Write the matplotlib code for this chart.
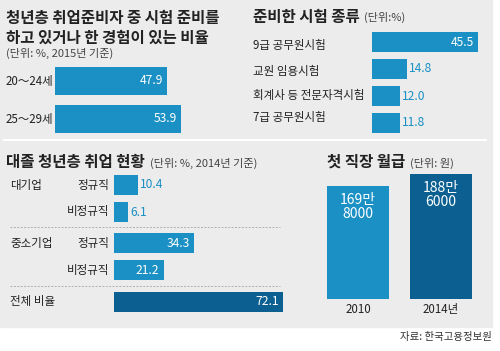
import matplotlib
matplotlib.use("Agg")
import matplotlib.pyplot as plt
from matplotlib.patches import Rectangle
from matplotlib.lines import Line2D

plt.rcParams['font.family'] = ['Noto Sans CJK KR', 'DejaVu Sans']

# data
age_labels = ['20～24세', '25～29세']
age_values = [47.9, 53.9]

exam_labels = ['9급 공무원시험', '교원 임용시험', '회계사 등 전문자격시험', '7급 공무원시험']
exam_values = [45.5, 14.8, 12.0, 11.8]

job_groups = ['대기업', '', '중소기업', '', '전체 비율']
job_types = ['정규직', '비정규직', '정규직', '비정규직', '']
job_values = [10.4, 6.1, 34.3, 21.2, 72.1]

salary_years = ['2010', '2014년']
salary_values = [169.8, 188.6]  # 만원
salary_texts = ['169만\n8000', '188만\n6000']

W, H = 500, 351
LIGHT = '#1a90c4'
DARK = '#0b6091'
TEXT = '#222222'
SCALE = 2.34  # px per % for horizontal bars

fig = plt.figure(figsize=(W / 100, H / 100), dpi=100)
fig.patches.append(Rectangle((0, 1 - 327 / H), 492 / W, 327 / H,
                             transform=fig.transFigure, color='#ececec', zorder=-2))
fig.add_artist(Line2D([4 / W, 486 / W], [1 - 140 / H] * 2, color='white', lw=1.5, zorder=-1))


def box(x0, y0, x1, y1):
    return [x0 / W, 1 - y1 / H, (x1 - x0) / W, (y1 - y0) / H]


def ftext(x, y, s, **kw):
    kw.setdefault('color', TEXT)
    kw.setdefault('va', 'center')
    fig.text(x / W, 1 - y / H, s, **kw)


def clean(ax):
    ax.set_facecolor('none')
    for sp in ax.spines.values():
        sp.set_visible(False)
    ax.set_xticks([])
    ax.set_yticks([])


def hbars(ax, pos, vals, colors, xmax):
    ax.barh(pos, vals, height=0.74, color=colors)
    ax.set_xlim(0, xmax)
    for p, v in zip(pos, vals):
        if v > 20:
            ax.annotate(f'{v:.1f}', (v, p), xytext=(-3, 0), textcoords='offset points',
                        ha='right', va='center', color='white', fontsize=8.7)
        else:
            ax.annotate(f'{v:.1f}', (v, p), xytext=(1.5, 0), textcoords='offset points',
                        ha='left', va='center', color=LIGHT, fontsize=8.7)


TITLE = dict(fontsize=11.2, fontweight='heavy')
UNIT = dict(fontsize=8, color='#444444')
LAB = dict(fontsize=8.3)

# --- top left ---
ftext(6, 18, '청년층 취업준비자 중 시험 준비를', **TITLE)
ftext(6, 38, '하고 있거나 한 경험이 있는 비율', **TITLE)
ftext(6, 53, '(단위: %, 2015년 기준)', **UNIT)

ax1 = fig.add_axes(box(55, 62, 55 + 60 * SCALE, 138))
clean(ax1)
hbars(ax1, [0, 1], age_values, LIGHT, 60)
ax1.set_ylim(1.5, -0.5)
for i, lab in enumerate(age_labels):
    ftext(6, 81 + 38 * i, lab, **LAB)

# --- top right ---
ftext(253, 17, '준비한 시험 종류', **TITLE)
ftext(364, 17, '(단위:%)', **UNIT)

ax2 = fig.add_axes(box(372, 28.5, 372 + 50 * SCALE, 136.5))
clean(ax2)
hbars(ax2, range(4), exam_values, LIGHT, 50)
ax2.set_ylim(3.5, -0.5)
for lab, y in zip(exam_labels, [46, 71, 96, 118]):
    ftext(253, y, lab, **LAB)

# --- bottom left ---
ftext(6, 162, '대졸 청년층 취업 현황', **TITLE)
ftext(150, 163, '(단위: %, 2014년 기준)', **UNIT)

job_pos = [0, 1, 2.15, 3.15, 4.33]
ax3 = fig.add_axes(box(114, 171.5, 114 + 75 * SCALE, 171.5 + 5.33 * 27))
clean(ax3)
hbars(ax3, job_pos, job_values, [LIGHT] * 4 + [DARK], 75)
ax3.set_ylim(4.83, -0.5)
for g, t, p in zip(job_groups, job_types, job_pos):
    y = 185 + p * 27
    if g:
        ftext(10, y, g, **LAB)
    if t:
        ftext(109, y, t, ha='right', **LAB)
for y in [227, 286]:
    fig.add_artist(Line2D([10 / W, 280 / W], [1 - y / H] * 2, color='#b0b0b0',
                          lw=0.7, ls=(0, (2, 1.5))))

# --- bottom right ---
ftext(327, 162, '첫 직장 월급', **TITLE)
ftext(410, 163, '(단위: 원)', **UNIT)

ax4 = fig.add_axes(box(316.5, 299 - 210 * 0.663, 482.5, 299))
clean(ax4)
ax4.bar([0, 1], salary_values, width=0.747, color=[LIGHT, DARK])
ax4.set_xlim(-0.5, 1.5)
ax4.set_ylim(0, 210)
ax4.set_xticks([0, 1], salary_years)
ax4.tick_params(axis='x', length=0, pad=3, labelsize=8.3, labelcolor=TEXT)
for i, (v, s) in enumerate(zip(salary_values, salary_texts)):
    ax4.annotate(s, (i, v), xytext=(0, -5), textcoords='offset points',
                 ha='center', va='top', color='white', fontsize=10, linespacing=1.0)

ftext(492, 337, '자료: 한국고용정보원', fontsize=7.5, ha='right', color='#333333')

fig.savefig('out.png', dpi=100)
